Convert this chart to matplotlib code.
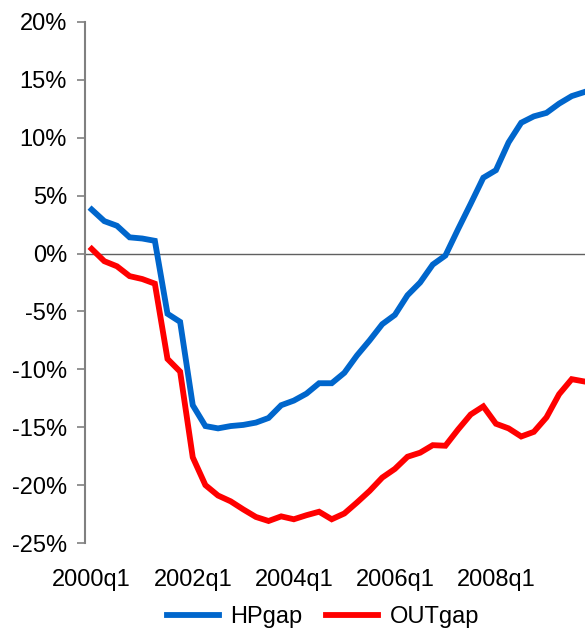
import numpy as np
import matplotlib.pyplot as plt
from matplotlib.ticker import FuncFormatter

plt.rcParams['font.family'] = ['Liberation Sans', 'DejaVu Sans']

# quarterly data, 2000q1 .. 2009q4 (percent)
hpgap = [3.8, 2.8, 2.4, 1.4, 1.3, 1.1, -5.2, -5.9, -13.1, -14.9,
         -15.1, -14.9, -14.8, -14.6, -14.2, -13.1, -12.7, -12.1, -11.2, -11.2,
         -10.3, -8.8, -7.5, -6.1, -5.3, -3.6, -2.5, -0.95, -0.17, 2.1,
         4.3, 6.55, 7.2, 9.6, 11.3, 11.85, 12.15, 12.95, 13.6, 13.95]
outgap = [0.4, -0.66, -1.1, -1.95, -2.2, -2.6, -9.1, -10.2, -17.6, -20.0,
          -20.9, -21.4, -22.1, -22.75, -23.1, -22.7, -22.95, -22.6, -22.3, -22.95,
          -22.45, -21.5, -20.5, -19.35, -18.6, -17.55, -17.2, -16.55, -16.6, -15.2,
          -13.9, -13.2, -14.7, -15.1, -15.8, -15.4, -14.15, -12.15, -10.85, -11.05]
tick_pos = [0, 8, 16, 24, 32]
tick_labels = ['2000q1', '2002q1', '2004q1', '2006q1', '2008q1']

x = np.arange(len(hpgap))

fig = plt.figure(figsize=(5.85, 6.33), dpi=100)
ax = fig.add_axes([85/585, 1-543/633, 500/585, (543-22)/633])

ax.axhline(0, color='#606060', lw=1.0, zorder=1)
ax.plot(x, hpgap, color='#0066CC', lw=4.2, label='HPgap', solid_joinstyle='miter', zorder=3)
ax.plot(x, outgap, color='#FF0000', lw=4.2, label='OUTgap', solid_joinstyle='miter', zorder=2)

ax.set_xlim(-0.53, 39.05)
ax.set_ylim(-25, 20)
ax.set_yticks(np.arange(-25, 21, 5))
ax.yaxis.set_major_formatter(FuncFormatter(lambda v, p: '%d%%' % v))
ax.set_xticks(tick_pos)
ax.set_xticklabels(tick_labels)

for s in ['top', 'right', 'bottom']:
    ax.spines[s].set_visible(False)
ax.spines['left'].set_color('#808080')
ax.spines['left'].set_linewidth(1.5)
ax.tick_params(axis='y', length=6, width=1.2, color='#808080', labelsize=17, pad=7)
ax.tick_params(axis='x', length=0, labelsize=17, pad=19)

fig.legend(loc='center', bbox_to_anchor=(323/585, 1-617/633), ncol=2, frameon=False,
           fontsize=17, handlelength=2.2, columnspacing=1.0, handletextpad=0.5)

fig.savefig('out.png', dpi=100)
